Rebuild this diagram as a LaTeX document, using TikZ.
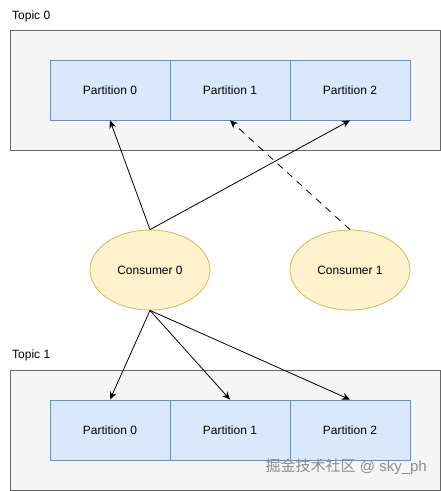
\documentclass[tikz,border=0pt]{standalone}
\usepackage{fontspec}
\setmainfont{Liberation Sans}
\newfontfamily\cjkfont{Noto Sans CJK SC}
\usepackage{xcolor}
\usetikzlibrary{arrows.meta,shapes.geometric}

\definecolor{topicfill}{HTML}{F5F5F5}
\definecolor{topicline}{HTML}{666666}
\definecolor{partfill}{HTML}{DAE8FC}
\definecolor{partline}{HTML}{6C8EBF}
\definecolor{consfill}{HTML}{FFF2CC}
\definecolor{consline}{HTML}{D6B656}

\begin{document}
\begin{tikzpicture}[x=1pt,y=-1pt,
    topicbox/.style={draw=topicline,fill=topicfill,line width=0.8pt,minimum width=430pt,minimum height=120pt,inner sep=0pt},
    partbox/.style={draw=partline,fill=partfill,line width=0.8pt,minimum width=120pt,minimum height=60pt,inner sep=0pt,font=\fontsize{12}{14}\selectfont},
    consumer/.style={ellipse,draw=consline,fill=consfill,line width=0.8pt,minimum width=120pt,minimum height=80pt,inner sep=0pt,font=\fontsize{12}{14}\selectfont},
    link/.style={-{Stealth[length=8pt,width=7pt]},line width=0.8pt}]
        \useasboundingbox (0,0) rectangle (441,491);

        % topic 0
        \node[anchor=west,inner sep=0pt,font=\fontsize{12}{14}\selectfont] (t0label) at (12,16) {Topic 0};
        \node[topicbox] (topic0) at (225,90) {};
        \node[partbox] (p00) at (110,90) {Partition 0};
        \node[partbox] (p01) at (230,90) {Partition 1};
        \node[partbox] (p02) at (350,90) {Partition 2};

        % topic 1
        \node[anchor=west,inner sep=0pt,font=\fontsize{12}{14}\selectfont] (t1label) at (12,355) {Topic 1};
        \node[topicbox] (topic1) at (225,430) {};
        \node[partbox] (p10) at (110,430) {Partition 0};
        \node[partbox] (p11) at (230,430) {Partition 1};
        \node[partbox] (p12) at (350,430) {Partition 2};

        % consumers
        \node[consumer] (c0) at (150,270) {Consumer 0};
        \node[consumer] (c1) at (350,270) {Consumer 1};

        \draw[link] (c0.north) -- (p00.south);
        \draw[link] (c0.north) -- (p02.south);
        \draw[link,dash pattern=on 7pt off 6pt] (c1.north) -- (p01.south);
        \draw[link] (c0.south) -- (p10.north);
        \draw[link] (c0.south) -- (p11.north);
        \draw[link] (c0.south) -- (p12.north);

        \node[anchor=east,inner sep=0pt,text=black!45,font=\fontsize{15}{17}\selectfont] (mark) at (427,467) {{\cjkfont 掘金技术社区} @ sky\_ph};
    \end{tikzpicture}
\end{document}
